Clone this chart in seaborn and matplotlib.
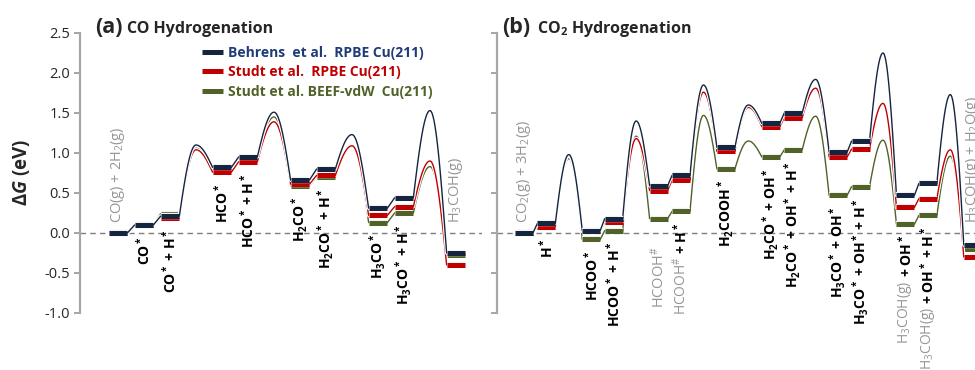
import numpy as np
import pandas as pd
import matplotlib
matplotlib.use("Agg")
import matplotlib.pyplot as plt
import matplotlib.patheffects as pe
from matplotlib.lines import Line2D
import seaborn as sns

# ---------------- data ----------------
series_names = ["Behrens  et al.  RPBE Cu(211)",
                "Studt et al.  RPBE Cu(211)",
                "Studt et al. BEEF-vdW  Cu(211)"]

# (a) CO hydrogenation -- "TS" marks a transition state between two states
co_steps = ["CO(g)+2H2(g)", "CO*", "CO*+H*", "TS", "HCO*", "HCO*+H*", "TS",
            "H2CO*", "H2CO*+H*", "TS", "H3CO*", "H3CO*+H*", "TS", "H3COH(g)"]
co_behrens = [0.00, 0.10, 0.21, 1.10, 0.82, 0.95, 1.51, 0.66, 0.80, 1.23, 0.31, 0.44, 1.53, -0.25]
co_studt_rpbe = [0.00, 0.10, 0.19, 1.04, 0.76, 0.89, 1.39, 0.61, 0.72, 1.09, 0.22, 0.33, 0.90, -0.40]
co_studt_beef = [0.00, 0.10, 0.24, 1.06, 0.80, 0.93, 1.45, 0.59, 0.70, 1.08, 0.13, 0.25, 0.83, -0.27]
co_labels_gray = ["CO(g) + 2H$_2$(g)", "", "", None, "", "", None,
                  "", "", None, "", "", None, "H$_3$COH(g)"]
co_labels_black = ["", "CO$^*$", "CO$^*$ + H$^*$", None, "HCO$^*$", "HCO$^*$ + H$^*$", None,
                   "H$_2$CO$^*$", "H$_2$CO$^*$ + H$^*$", None, "H$_3$CO$^*$",
                   "H$_3$CO$^*$ + H$^*$", None, ""]

# (b) CO2 hydrogenation
co2_steps = ["CO2(g)+3H2(g)", "H*", "TS", "HCOO*", "HCOO*+H*", "TS", "HCOOH#", "HCOOH#+H*", "TS",
             "H2COOH*", "TS", "H2CO*+OH*", "H2CO*+OH*+H*", "TS", "H3CO*+OH*", "H3CO*+OH*+H*",
             "TS", "H3COH(g)+OH*", "H3COH(g)+OH*+H*", "TS", "H3COH(g)+H2O(g)"]
co2_behrens = [0.00, 0.12, 0.98, 0.03, 0.18, 1.40, 0.59, 0.72, 1.85, 1.07, 1.60,
               1.37, 1.50, 1.92, 1.01, 1.15, 2.25, 0.47, 0.62, 1.73, -0.15]
co2_studt_rpbe = [0.00, 0.08, 0.97, 0.02, 0.14, 1.18, 0.53, 0.66, 1.76, 1.02, 1.57,
                  1.33, 1.44, 1.81, 0.95, 1.05, 1.62, 0.32, 0.43, 1.04, -0.30]
co2_studt_beef = [0.00, 0.07, 0.93, -0.08, 0.03, 1.21, 0.18, 0.27, 1.47, 0.80, 1.15,
                  0.95, 1.04, 1.46, 0.47, 0.58, 1.16, 0.11, 0.22, 0.96, -0.20]
co2_labels_gray = ["CO$_2$(g) + 3H$_2$(g)", "", None, "", "", None, "HCOOH$^{\\#}$", "HCOOH$^{\\#}$", None,
                   "", None, "", "", None, "", "", None, "H$_3$COH(g)", "H$_3$COH(g)", None,
                   "H$_3$COH(g) + H$_2$O(g)"]
co2_labels_black = ["", "H$^*$", None, "HCOO$^*$", "HCOO$^*$ + H$^*$", None, "", "+ H$^*$", None,
                    "H$_2$COOH$^*$", None, "H$_2$CO$^*$ + OH$^*$", "H$_2$CO$^*$ + OH$^*$ + H$^*$", None,
                    "H$_3$CO$^*$ + OH$^*$", "H$_3$CO$^*$ + OH$^*$ + H$^*$", None,
                    "+ OH$^*$", "+ OH$^*$ + H$^*$", None, ""]

yticks = [-1.0, -0.5, 0.0, 0.5, 1.0, 1.5, 2.0, 2.5]

# ---------------- style ----------------
sns.set_theme(style="white")
plt.rcParams["font.family"] = ["Open Sans", "DejaVu Sans"]
plt.rcParams["mathtext.fontset"] = "custom"
plt.rcParams["mathtext.rm"] = "Open Sans"
plt.rcParams["mathtext.it"] = "Open Sans:italic:bold"
plt.rcParams["mathtext.bf"] = "Open Sans:bold"
plt.rcParams["mathtext.default"] = "regular"
plt.rcParams["axes.unicode_minus"] = False

line_colors = ["#15243f", "#c00000", "#4f6228"]
text_colors = ["#1f3b78", "#c00000", "#4f6228"]
gray_txt = "#969696"
axis_gray = "#a6a6a6"

fig = plt.figure(figsize=(9.75, 3.7), dpi=100)
axL = fig.add_axes([80 / 975, 57 / 370, 402 / 975, 280 / 370])
axR = fig.add_axes([497 / 975, 57 / 370, 500 / 975, 280 / 370])


def draw_panel(ax, steps, vals_list, lab_gray, lab_black, half_w, xlim, show_labels):
    pos = np.arange(len(steps))
    states = [i for i, s in enumerate(steps) if s != "TS"]
    z = 2
    for k in [2, 1, 0]:
        vals = vals_list[k]
        rows = []
        seg = 0
        for a, b in zip(states[:-1], states[1:]):
            x0 = pos[a] + half_w
            x1 = pos[b] - half_w
            if b - a == 1:
                rows += [(x0, vals[a], seg), (x1, vals[b], seg)]
            else:
                t = pos[a + 1]
                vt = vals[a + 1]
                u = np.linspace(0, 1, 30)
                for uu in u:
                    rows.append((x0 + (t - x0) * uu, vals[a] + (vt - vals[a]) * np.sin(np.pi / 2 * uu), seg))
                for uu in u[1:]:
                    rows.append((t + (x1 - t) * uu, vals[b] + (vt - vals[b]) * np.sin(np.pi / 2 * (1 - uu)), seg))
            seg += 1
        df = pd.DataFrame(rows, columns=["x", "y", "seg"])
        n0 = len(ax.lines)
        sns.lineplot(data=df, x="x", y="y", units="seg", estimator=None, sort=False,
                     color=line_colors[k], lw=1.0, ax=ax, zorder=z)
        for ln in ax.lines[n0:]:
            ln.set_path_effects([pe.Stroke(linewidth=2.6, foreground="white"), pe.Normal()])
        z += 0.1
        brow = []
        for i in states:
            brow += [(pos[i] - half_w, vals[i], i), (pos[i] + half_w, vals[i], i)]
        bdf = pd.DataFrame(brow, columns=["x", "y", "seg"])
        n0 = len(ax.lines)
        sns.lineplot(data=bdf, x="x", y="y", units="seg", estimator=None, sort=False,
                     color=line_colors[k], lw=3.6, ax=ax, zorder=z)
        for ln in ax.lines[n0:]:
            ln.set_solid_capstyle("butt")
            ln.set_path_effects([pe.Stroke(linewidth=4.6, foreground="#f2f2f2"), pe.Normal()])
        z += 0.1

    ax.axhline(0, color="#7f7f7f", lw=1.0, ls=(0, (4, 3)), zorder=1)
    ax.set_xlim(*xlim)
    ax.set_ylim(-1.0, 2.5)
    ax.set_yticks(yticks)
    ax.set_xticks([])
    ax.set_xlabel("")
    ax.set_ylabel("")
    for s in ["top", "right", "bottom"]:
        ax.spines[s].set_visible(False)
    ax.spines["left"].set_color(axis_gray)
    ax.spines["left"].set_linewidth(1.6)
    ax.tick_params(axis="y", direction="out", length=4, width=1.4, color=axis_gray,
                   labelsize=10.5, labelcolor="#262626", left=True, pad=3)
    if show_labels:
        ax.set_yticklabels([f"{t:.1f}" for t in yticks])
    else:
        ax.set_yticklabels([])
    ax.patch.set_alpha(0)

    # state labels
    last = states[-1]
    for i in states:
        vmin = min(v[i] for v in vals_list)
        g = lab_gray[i]
        b = lab_black[i]
        if i == states[0] or i == last:
            ax.text(pos[i], max(vmin, 0) + 0.12, g, rotation=90, ha="center", va="bottom",
                    color=gray_txt, fontsize=10.5, zorder=5)
            continue
        ytop = vmin - 0.14
        if b:
            tb = ax.text(pos[i], ytop, b, rotation=90, ha="center", va="top",
                         color="black", fontsize=10, fontweight="bold", zorder=5)
            if g:
                ax.annotate(g, xy=(0.5, 0), xycoords=tb, xytext=(0, -2), textcoords="offset points",
                            rotation=90, ha="center", va="top", color=gray_txt, fontsize=10, zorder=5)
        elif g:
            ax.text(pos[i], ytop - 0.2, g, rotation=90, ha="center", va="top",
                    color=gray_txt, fontsize=10.5, zorder=5)


draw_panel(axL, co_steps, [co_behrens, co_studt_rpbe, co_studt_beef],
           co_labels_gray, co_labels_black, 0.36, (-1.46, 14.0), True)
draw_panel(axR, co2_steps, [co2_behrens, co2_studt_rpbe, co2_studt_beef],
           co2_labels_gray, co2_labels_black, 0.40, (-1.2, 21.08), False)

# titles
yb = 1 - 33 / 370
fig.text(95 / 975, yb, "(a)", fontsize=15.5, fontweight="bold", va="baseline")
fig.text(127 / 975, yb, "CO Hydrogenation", fontsize=11.5, fontweight="bold", va="baseline")
fig.text(502 / 975, yb, "(b)", fontsize=15.5, fontweight="bold", va="baseline")
fig.text(537 / 975, yb, "CO$_2$ Hydrogenation", fontsize=11.5, fontweight="bold", va="baseline")

# y label
fig.text(22 / 975, 1 - 172 / 370, "Δ$\\mathit{G}$ (eV)", rotation=90, fontsize=13.5,
         fontweight="bold", ha="center", va="center")

# legend
handles = [Line2D([], [], color=c, lw=3.6, solid_capstyle="butt") for c in line_colors]
leg = fig.legend(handles, series_names, loc="upper left", bbox_to_anchor=(202 / 975, 1 - 46 / 370),
                 frameon=False, handlelength=1.5, handletextpad=0.4, labelspacing=0.38,
                 borderpad=0, borderaxespad=0, prop={"weight": "bold", "size": 10})
for t, c in zip(leg.get_texts(), text_colors):
    t.set_color(c)

fig.savefig("out.png", dpi=100)
